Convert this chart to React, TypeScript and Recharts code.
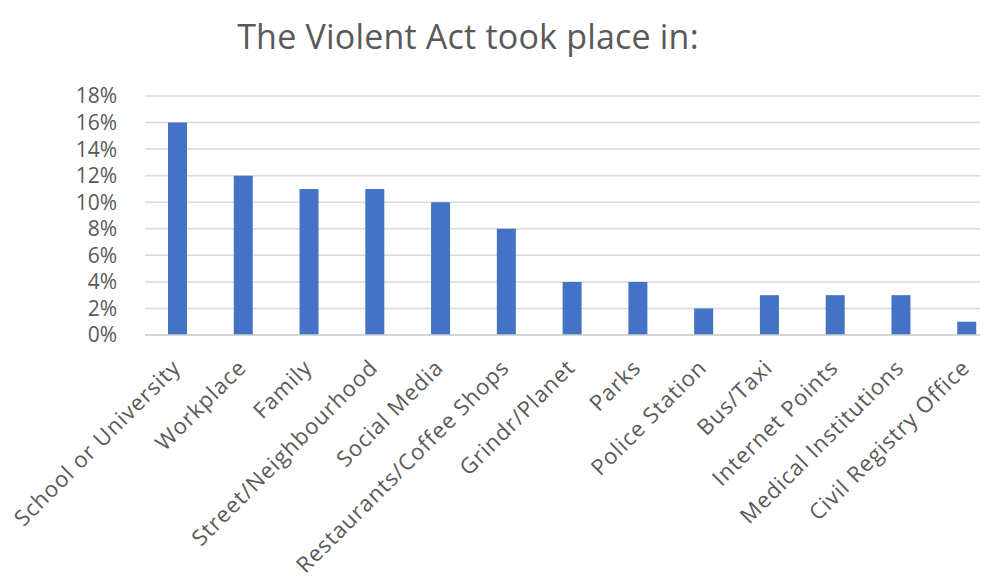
import React from 'react';
import { BarChart, Bar, XAxis, YAxis, CartesianGrid } from 'recharts';

const categories = [
  'School or University',
  'Workplace',
  'Family',
  'Street/Neighbourhood',
  'Social Media',
  'Restaurants/Coffee Shops',
  'Grindr/Planet',
  'Parks',
  'Police Station',
  'Bus/Taxi',
  'Internet Points',
  'Medical Institutions',
  'Civil Registry Office',
];
const shares = [16, 12, 11, 11, 10, 8, 4, 4, 2, 3, 3, 3, 1];
const yTicks = [0, 2, 4, 6, 8, 10, 12, 14, 16, 18];

const data = categories.map((name, i) => ({ name, value: shares[i] }));

const FONT = '"Open Sans", Lato, sans-serif';
const GREY = '#595959';

const XTick = (props: any) => {
  const { x, y, payload } = props;
  const ax = x + 4;
  const ay = y + 26;
  return (
    <text
      x={ax}
      y={ay}
      transform={`rotate(-45, ${ax}, ${ay})`}
      textAnchor="end"
      fill={GREY}
      fontSize={22}
      letterSpacing={1}
      fontFamily={FONT}
    >
      {payload.value}
    </text>
  );
};

export default function App() {
  return (
    <div style={{ width: 980, height: 571, overflow: 'hidden', position: 'relative' }}>
      <div
        style={{
          position: 'absolute',
          top: 5,
          left: 0,
          width: 920,
          textAlign: 'center',
          fontFamily: FONT,
          fontSize: 34,
          letterSpacing: 0.2,
          color: GREY,
        }}
      >
        The Violent Act took place in:
      </div>
      <BarChart
        width={995}
        height={571}
        data={data}
        margin={{ top: 88, right: 3, bottom: 0, left: 0 }}
      >
        <CartesianGrid vertical={false} stroke="#d9d9d9" strokeWidth={1.5} />
        <XAxis
          dataKey="name"
          interval={0}
          tick={<XTick />}
          tickLine={false}
          axisLine={{ stroke: '#d0d0d0', strokeWidth: 1.5 }}
          height={244}
        />
        <YAxis
          domain={[0, 18]}
          ticks={yTicks}
          interval={0}
          tickFormatter={(v: number) => `${v}%`}
          tickLine={false}
          axisLine={false}
          width={137}
          tick={{ fill: GREY, fontSize: 21, fontFamily: FONT }}
          tickMargin={22}
        />
        <Bar dataKey="value" fill="#4472C4" barSize={19} isAnimationActive={false} />
      </BarChart>
    </div>
  );
}
